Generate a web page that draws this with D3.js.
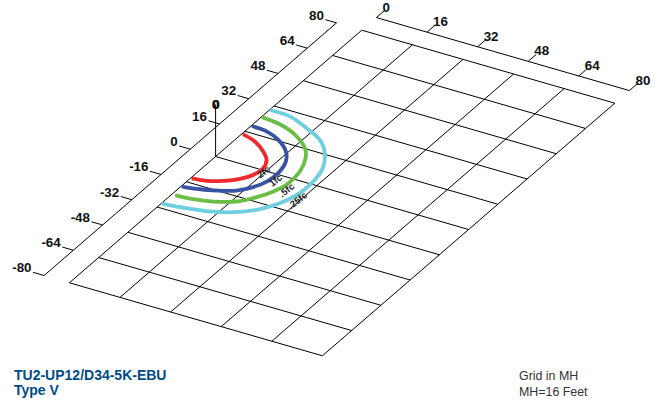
<!DOCTYPE html>
<html>
<head>
<meta charset="utf-8">
<script src="https://cdn.jsdelivr.net/npm/d3@7"></script>
<style>
  html, body { margin: 0; padding: 0; background: #fff; }
  svg { display: block; }
  text { font-family: "Liberation Sans", Arial, sans-serif; }
  .tick-label { font-size: 13.4px; font-weight: bold; fill: #111; }
  .contour-label { font-size: 9.5px; font-weight: bold; fill: #222; }
</style>
</head>
<body>
<svg id="chart" width="665" height="402"></svg>
<script>
const xTicks = [0, 16, 32, 48, 64, 80]
const yTicks = [-80, -64, -48, -32, -16, 0, 16, 32, 48, 64, 80]
const yGrid = [-80, -64, -48, -32, -16, 0, 16, 32, 48, 64, 80]

// isolines in MH grid units, [x, y]
const contour2fc = [[0.85, 14.2], [5.2, 12.5], [9.9, 8.9], [13, 5.4], [14.5, 1], [14, -3.5], [11.9, -7.3], [8.5, -10.5], [4.5, -12.8], [0.8, -13.6]]
const contour1fc = [[0.7, 19.4], [5.2, 18.9], [10.3, 16.5], [15.3, 12], [18, 7.3], [19.4, 0.7], [19, -4.9], [17.3, -9.4], [14.3, -13.3], [9.6, -16], [4.4, -17.9], [0.65, -18.8]]
const contour05fc = [[0.6, 25], [6.4, 24.1], [12.85, 21.2], [18.9, 16.2], [21.8, 11.5], [24.1, 4.4], [24.6, -2.7], [23.3, -8.7], [20.9, -13.7], [17.3, -18.5], [11.8, -21.7], [6.4, -23.3], [1.5, -23.9]]
const contour025fc = [[0.65, 29.5], [6.6, 29.2], [13.8, 25.9], [20.1, 22.2], [25, 16.5], [28.6, 9.1], [30, 1.5], [30, -5.9], [28, -13.4], [24.35, -19.7], [19.5, -24], [13.7, -26.9], [7.3, -28.5], [0.6, -29.6]]

const contourNames = ['2fc', '1fc', '.5fc', '.25fc']
const contourColors = ['#ee2a2f', '#3953a4', '#6abd45', '#6dcfe0']
const contourLabelAt = [[15.9, -1], [21, -3.3], [26.3, -6.4], [31.7, -9.8]]

const titleLines = ['TU2-UP12/D34-5K-EBU', 'Type V']
const noteLines = ['Grid in MH', 'MH=16 Feet']

// the sheared floor plane: each grid axis moves both px and py
const origin = [215.6, 156.5]
const xToPx = d3.scaleLinear().domain([0, 80]).range([0, 253])
const xToPy = d3.scaleLinear().domain([0, 80]).range([0, 73])
const yToPx = d3.scaleLinear().domain([0, 80]).range([0, 146.2])
const yToPy = d3.scaleLinear().domain([0, 80]).range([0, -126.3])
const zToPy = d3.scaleLinear().domain([0, 16]).range([0, -52])

const project = (x, y) => [origin[0] + xToPx(x) + yToPx(y), origin[1] + xToPy(x) + yToPy(y)]

const svg = d3.select('#chart')
const path = d3.line()
const segment = (a, b) => path([project(a[0], a[1]), project(b[0], b[1])])

const black = svg.append('g').attr('fill', 'none').attr('stroke', '#000').attr('stroke-width', 1)

// floor grid
black.selectAll('.gx').data(xTicks).join('path').attr('d', x => segment([x, -80], [x, 80]))
black.selectAll('.gy').data(yGrid).join('path').attr('d', y => segment([0, y], [80, y]))

// left axis with ticks, sits 8 units off the floor
const leftAxisX = -8
const leftTickX = -11.5
black.append('path').attr('d', segment([leftAxisX, -80], [leftAxisX, 80]))
black.selectAll('.lt').data(yTicks).join('path').attr('d', y => segment([leftAxisX, y], [leftTickX, y]))

// top axis
const topAxisY = 88
const topTickY = 92.4
black.append('path').attr('d', segment([0, topAxisY], [80, topAxisY]))
black.selectAll('.tt').data(xTicks).join('path').attr('d', x => segment([x, topAxisY], [x, topTickY]))

// pole at the luminaire
const base = project(0, 0)
black.append('path').attr('d', path([base, [base[0], base[1] + zToPy(16)]]))

svg.selectAll('.left-label').data(yTicks).join('text')
  .attr('class', 'tick-label')
  .attr('x', y => project(leftTickX, y)[0] - 1.5)
  .attr('y', y => project(leftTickX, y)[1])
  .attr('text-anchor', 'end')
  .text(y => y)

svg.selectAll('.top-label').data(xTicks).join('text')
  .attr('class', 'tick-label')
  .attr('x', x => project(x, topTickY)[0] - 2)
  .attr('y', x => project(x, topTickY)[1] + 1)
  .text(x => x)

// two zeros overprinted at the pole top
svg.selectAll('.pole-label').data([0, 0.6]).join('text')
  .attr('class', 'tick-label')
  .attr('x', d => base[0] + d)
  .attr('y', base[1] + zToPy(16) + 4)
  .attr('text-anchor', 'middle')
  .text('0')

const curve = d3.line().curve(d3.curveCatmullRom.alpha(0.5))
const contours = [contour2fc, contour1fc, contour05fc, contour025fc]

svg.append('g').selectAll('path').data(contours).join('path')
  .attr('d', d => curve(d.map(p => project(p[0], p[1]))))
  .attr('fill', 'none')
  .attr('stroke', (d, i) => contourColors[i])
  .attr('stroke-width', 3.8)
  .attr('stroke-linecap', 'round')

svg.append('g').selectAll('text').data(contourNames).join('text')
  .attr('class', 'contour-label')
  .attr('text-anchor', 'middle')
  .attr('dominant-baseline', 'middle')
  .attr('transform', (d, i) => {
    const p = project(contourLabelAt[i][0], contourLabelAt[i][1])
    return `translate(${p[0]},${p[1]}) rotate(-38)`
  })
  .text(d => d)

svg.append('g').selectAll('text').data(titleLines).join('text')
  .attr('x', 14)
  .attr('y', (d, i) => 380 + i * 15)
  .attr('font-size', 14)
  .attr('font-weight', 'bold')
  .attr('fill', '#004b87')
  .text(d => d)

svg.append('g').selectAll('text').data(noteLines).join('text')
  .attr('x', 519)
  .attr('y', (d, i) => 380 + i * 16)
  .attr('font-size', 12.4)
  .attr('fill', '#333')
  .text(d => d)
</script>
</body>
</html>
